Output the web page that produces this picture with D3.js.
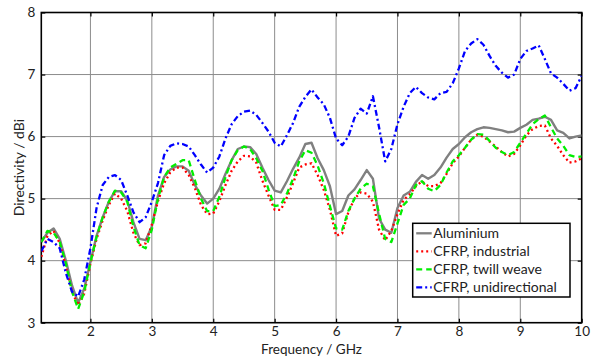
<!DOCTYPE html>
<html>
<head>
<meta charset="utf-8">
<script src="https://cdn.jsdelivr.net/npm/d3@7"></script>
<style>
  body { margin: 0; background: #fff; }
  text { font-family: Lato, "Open Sans", sans-serif; fill: #222; }
</style>
</head>
<body>
<svg id="chart" width="594" height="356"></svg>
<script>
// frequency samples (GHz)
const freq = [1.2,1.3,1.4,1.5,1.6,1.7,1.8,1.9,2.0,2.1,2.2,2.3,2.4,2.5,2.6,2.7,2.8,2.9,3.0,
  3.1,3.2,3.3,3.4,3.5,3.6,3.7,3.8,3.9,4.0,4.1,4.2,4.3,4.4,4.5,4.6,4.7,
  4.8,4.9,5.0,5.1,5.2,5.3,5.4,5.5,5.6,5.7,5.8,5.9,6.0,6.1,6.2,6.3,6.4,6.5,6.6,6.7,
  6.8,6.9,7.0,7.1,7.2,7.3,7.4,7.5,7.6,7.7,7.8,7.9,8.0,8.1,8.2,8.3,8.4,8.5,8.6,8.7,
  8.8,8.9,9.0,9.1,9.2,9.3,9.4,9.5,9.6,9.7,9.8,9.9,10.0];

const aluminium = [4.3,4.45,4.52,4.35,4.0,3.6,3.32,3.55,3.98,4.4,4.7,4.95,5.12,5.12,4.97,4.62,4.35,4.33,4.55,
  5.05,5.35,5.47,5.52,5.52,5.45,5.22,5.05,4.92,5.0,5.16,5.4,5.62,5.8,5.84,5.83,5.72,
  5.5,5.3,5.13,5.1,5.28,5.48,5.66,5.88,5.9,5.65,5.46,5.2,4.75,4.8,5.05,5.15,5.3,5.46,5.32,4.68,
  4.5,4.45,4.85,5.05,5.11,5.27,5.38,5.32,5.38,5.5,5.66,5.8,5.88,5.99,6.07,6.12,6.15,6.14,6.12,6.1,
  6.07,6.08,6.14,6.19,6.27,6.29,6.32,6.27,6.1,6.06,5.97,6.0,6.02];

const industrial = [4.06,4.4,4.48,4.28,3.9,3.5,3.28,3.47,3.95,4.35,4.65,4.9,5.08,5.0,4.8,4.45,4.25,4.28,4.58,
  4.96,5.25,5.42,5.5,5.5,5.38,5.17,4.9,4.75,4.76,4.96,5.22,5.45,5.6,5.69,5.68,5.58,
  5.29,5.05,4.82,4.82,5.02,5.25,5.5,5.55,5.57,5.38,5.14,4.82,4.4,4.44,4.78,5.0,5.1,5.08,4.95,4.5,
  4.33,4.48,4.75,4.98,5.07,5.2,5.28,5.2,5.2,5.25,5.4,5.57,5.68,5.82,5.95,6.03,6.0,5.92,5.84,5.75,
  5.68,5.72,5.86,6.02,6.12,6.17,6.18,5.97,5.85,5.7,5.58,5.6,5.65];

const twillWeave = [4.3,4.48,4.45,4.3,3.95,3.5,3.22,3.5,3.97,4.38,4.7,4.95,5.13,5.1,4.95,4.55,4.25,4.2,4.5,
  5.0,5.35,5.5,5.56,5.62,5.62,5.3,5.0,4.8,4.8,5.03,5.35,5.62,5.78,5.84,5.8,5.65,
  5.45,5.15,4.88,4.9,5.08,5.32,5.6,5.78,5.74,5.53,5.25,4.88,4.52,4.5,4.8,5.0,5.16,5.24,5.2,4.76,
  4.35,4.3,4.6,4.9,5.0,5.22,5.28,5.16,5.12,5.22,5.42,5.6,5.7,5.82,5.95,6.04,6.03,5.93,5.82,5.75,
  5.7,5.75,5.9,6.05,6.2,6.28,6.34,6.15,5.97,5.85,5.7,5.67,5.68];

const unidirectional = [4.15,4.35,4.3,4.2,3.8,3.5,3.42,3.7,4.2,4.85,5.22,5.35,5.38,5.3,5.05,4.78,4.62,4.7,4.95,
  5.25,5.7,5.85,5.89,5.88,5.84,5.7,5.55,5.42,5.5,5.68,5.97,6.2,6.33,6.4,6.42,6.35,
  6.22,6.08,5.9,5.84,6.02,6.22,6.48,6.64,6.76,6.63,6.52,6.3,5.97,5.86,6.0,6.3,6.45,6.37,6.65,6.15,
  5.6,5.8,6.2,6.48,6.7,6.8,6.7,6.63,6.6,6.7,6.72,6.86,7.1,7.38,7.5,7.57,7.48,7.3,7.14,7.03,
  6.95,7.0,7.25,7.38,7.42,7.47,7.25,7.02,6.95,6.85,6.74,6.78,6.98];

const xTicks = [2, 3, 4, 5, 6, 7, 8, 9, 10];
const yTicks = [3, 4, 5, 6, 7, 8];

const seriesNames = ["Aluminium", "CFRP, industrial", "CFRP, twill weave", "CFRP, unidirectional"];
const seriesColors = ["#808080", "#ff0000", "#00ee00", "#0000ff"];
const seriesDash = [null, "2,3", "6,4", "6,3,2,3"];
const seriesValues = [aluminium, industrial, twillWeave, unidirectional];

const svg = d3.select("#chart");
const plotL = 41.3, plotR = 581.7, plotT = 12.5, plotB = 322.7;

const x = d3.scaleLinear().domain([1.2, 10]).range([plotL, plotR]);
const y = d3.scaleLinear().domain([3, 8]).range([plotB, plotT]);

// grid
svg.append("g").selectAll("line")
  .data(xTicks.slice(0, -1))
  .join("line")
  .attr("x1", d => x(d)).attr("x2", d => x(d))
  .attr("y1", plotT).attr("y2", plotB)
  .attr("stroke", "#8c8c8c").attr("stroke-width", 1);
svg.append("g").selectAll("line")
  .data(yTicks.slice(1, -1))
  .join("line")
  .attr("x1", plotL).attr("x2", plotR)
  .attr("y1", d => y(d)).attr("y2", d => y(d))
  .attr("stroke", "#8c8c8c").attr("stroke-width", 1);

// axes (ticks inside, mirrored)
const fmt = d3.format("d");
const xAxis = svg.append("g").attr("transform", `translate(0,${plotB})`)
  .call(d3.axisBottom(x).tickValues(xTicks).tickSizeInner(-4).tickSizeOuter(0).tickPadding(4).tickFormat(fmt));
const xAxisTop = svg.append("g").attr("transform", `translate(0,${plotT})`)
  .call(d3.axisTop(x).tickValues(xTicks).tickSizeInner(-4).tickSizeOuter(0).tickFormat(""));
const yAxis = svg.append("g").attr("transform", `translate(${plotL},0)`)
  .call(d3.axisLeft(y).tickValues(yTicks).tickSizeInner(-4).tickSizeOuter(0).tickPadding(6).tickFormat(fmt));
const yAxisRight = svg.append("g").attr("transform", `translate(${plotR},0)`)
  .call(d3.axisRight(y).tickValues(yTicks).tickSizeInner(-4).tickSizeOuter(0).tickFormat(""));

[xAxis, xAxisTop, yAxis, yAxisRight].forEach(a => {
  a.select(".domain").remove();
  a.selectAll("line").attr("stroke", "#000").attr("stroke-width", 1.2);
  a.selectAll("text").style("font-size", "13.5px").attr("fill", "#222");
});

// frame
svg.append("rect")
  .attr("x", plotL).attr("y", plotT)
  .attr("width", plotR - plotL).attr("height", plotB - plotT)
  .attr("fill", "none").attr("stroke", "#000").attr("stroke-width", 1.6);

// series
svg.append("clipPath").attr("id", "plotClip")
  .append("rect").attr("x", plotL).attr("y", plotT)
  .attr("width", plotR - plotL).attr("height", plotB - plotT);

const line = d3.line()
  .x((d, i) => x(freq[i]))
  .y(d => y(d));

svg.append("g").attr("clip-path", "url(#plotClip)")
  .selectAll("path")
  .data(seriesValues)
  .join("path")
  .attr("d", line)
  .attr("fill", "none")
  .attr("stroke", (d, i) => seriesColors[i])
  .attr("stroke-width", (d, i) => i === 0 ? 2.4 : 2.3)
  .attr("stroke-dasharray", (d, i) => seriesDash[i])
  .attr("stroke-linejoin", "round");

// legend
const legend = svg.append("g").attr("transform", "translate(412.7,223.3)");
legend.append("rect")
  .attr("width", 157.3).attr("height", 73.7)
  .attr("fill", "#fff").attr("stroke", "#000").attr("stroke-width", 1.5);
const rows = legend.selectAll("g.row")
  .data(seriesNames)
  .join("g")
  .attr("class", "row")
  .attr("transform", (d, i) => `translate(0,${10 + i * 18})`);
rows.append("line")
  .attr("x1", 3.5).attr("x2", 19)
  .attr("stroke", (d, i) => seriesColors[i])
  .attr("stroke-width", 2.3)
  .attr("stroke-dasharray", (d, i) => seriesDash[i]);
rows.append("text")
  .attr("x", 20.5).attr("dy", "0.35em")
  .style("font-size", "14px")
  .text(d => d);

// axis titles
svg.append("text")
  .attr("x", (plotL + plotR) / 2).attr("y", 353.5)
  .attr("text-anchor", "middle")
  .style("font-size", "13.5px")
  .text("Frequency / GHz");
svg.append("text")
  .attr("transform", `translate(24,${(plotT + plotB) / 2}) rotate(-90)`)
  .attr("text-anchor", "middle")
  .style("font-size", "14px")
  .text("Directivity / dBi");
</script>
</body>
</html>
